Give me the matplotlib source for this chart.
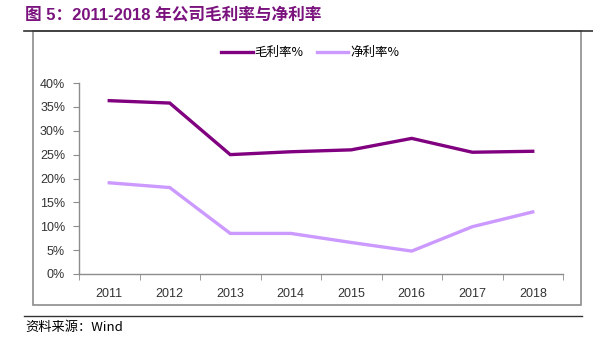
import matplotlib
matplotlib.use("Agg")
import matplotlib.pyplot as plt
from matplotlib.lines import Line2D
from matplotlib.patches import Rectangle
from matplotlib.ticker import FixedLocator, PercentFormatter

years = ["2011", "2012", "2013", "2014", "2015", "2016", "2017", "2018"]
gross_margin = [36.3, 35.8, 25.0, 25.6, 26.0, 28.4, 25.5, 25.7]
net_margin = [19.1, 18.1, 8.5, 8.5, 6.6, 4.8, 9.9, 13.0]
series_names = ["毛利率%", "净利率%"]
title_text = "图 5：2011-2018 年公司毛利率与净利率"
source_text = "资料来源：Wind"

W, H = 593, 343
fig = plt.figure(figsize=(W / 100, H / 100), dpi=100)

def fx(px):
    return px / W

def fy(py):
    return 1 - py / H

cjk = ["Noto Sans CJK SC", "DejaVu Sans"]
lat = ["Liberation Sans", "Noto Sans CJK SC"]

# title
fig.text(fx(25), fy(15), title_text, family=["Liberation Sans", "Noto Sans CJK SC"],
         fontsize=12, fontweight="bold", color="#7B137F", va="center", ha="left")
# top rule
fig.add_artist(Line2D([fx(24), fx(593)], [fy(31), fy(31)], color="#333333", lw=1.2))
# chart box
fig.add_artist(Rectangle((fx(33), fy(305)), fx(581) - fx(33), fy(31) - fy(305),
                         fill=False, edgecolor="#8c8c8c", lw=1.2))
# bottom rule
fig.add_artist(Line2D([fx(24), fx(582)], [fy(316), fy(316)], color="#333333", lw=1.0))
fig.text(fx(25), fy(327), source_text, family=cjk, fontsize=9.5, color="black",
         va="center", ha="left")

ax = fig.add_axes([fx(79), fy(274), fx(563) - fx(79), fy(83) - fy(274)])
x = list(range(len(years)))
ax.plot(x, gross_margin, color="#800080", lw=2.4, solid_joinstyle="miter")
ax.plot(x, net_margin, color="#CC99FF", lw=2.4, solid_joinstyle="miter")

ax.set_xlim(-0.5, len(years) - 0.5)
ax.set_ylim(0, 40)
ax.set_yticks([0, 5, 10, 15, 20, 25, 30, 35, 40])
ax.yaxis.set_major_formatter(PercentFormatter(decimals=0))
ax.set_xticks(x)
ax.set_xticklabels(years)
ax.xaxis.set_minor_locator(FixedLocator([i - 0.5 for i in range(len(years) + 1)]))
ax.tick_params(axis="x", which="major", length=0, pad=10, labelsize=9, labelcolor="#333333")
ax.tick_params(axis="x", which="minor", length=4, direction="out", color="#8c8c8c")
ax.tick_params(axis="y", which="major", length=4, direction="out", color="#8c8c8c",
               labelsize=9, labelcolor="#333333", pad=6)
for lab in ax.get_xticklabels() + ax.get_yticklabels():
    lab.set_family(lat)
for s in ["top", "right"]:
    ax.spines[s].set_visible(False)
for s in ["left", "bottom"]:
    ax.spines[s].set_color("#8c8c8c")
    ax.spines[s].set_linewidth(1.0)

# legend
ly = fy(52)
fig.add_artist(Line2D([fx(221), fx(253)], [ly, ly], color="#800080", lw=2.4))
fig.text(fx(254), ly, series_names[0], family=cjk, fontsize=9, va="center", ha="left")
fig.add_artist(Line2D([fx(317), fx(348)], [ly, ly], color="#CC99FF", lw=2.4))
fig.text(fx(350), ly, series_names[1], family=cjk, fontsize=9, va="center", ha="left")

fig.savefig("out.png", dpi=100)
